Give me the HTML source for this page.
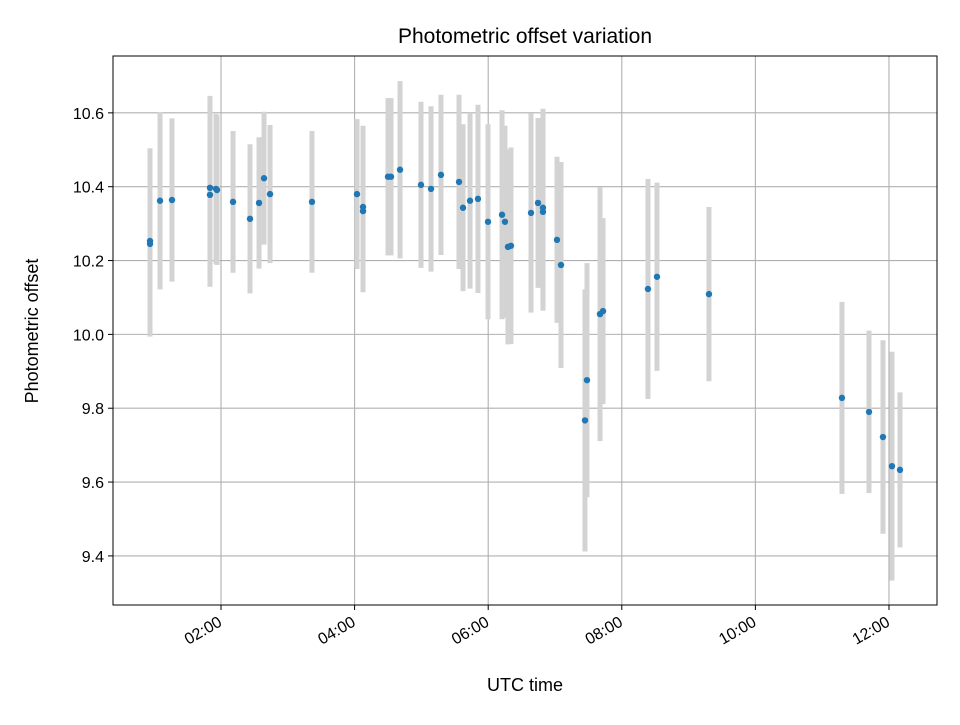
<!DOCTYPE html>
<html><head><meta charset="utf-8"><style>body{margin:0;background:#fff}svg{font-family:"Liberation Sans","DejaVu Sans",sans-serif}</style></head>
<body>
<svg id="chart" width="960" height="720" xmlns="http://www.w3.org/2000/svg">
<rect width="960" height="720" fill="#fff"/>
<g id="grid"></g>
<g id="bars"></g>
<g id="pts"></g>
<rect x="113" y="56" width="824" height="549" fill="none" stroke="#000" stroke-width="1"/>
<g id="ticks"></g>
<text x="525" y="43" text-anchor="middle" font-size="21">Photometric offset variation</text>
<text x="525" y="691" text-anchor="middle" font-size="18">UTC time</text>
<text transform="translate(38,331) rotate(-90)" text-anchor="middle" font-size="18">Photometric offset</text>
</svg>
<script>
const hours=[0.937,0.937,1.087,1.266,1.835,1.835,1.925,1.94,2.18,2.434,2.569,2.644,2.734,3.362,4.036,4.126,4.126,4.5,4.545,4.68,4.994,5.144,5.293,5.563,5.623,5.728,5.847,5.997,6.207,6.251,6.296,6.341,6.641,6.746,6.82,6.82,7.03,7.09,7.449,7.479,7.674,7.719,8.392,8.527,9.305,11.296,11.701,11.91,12.045,12.165];
const values=[10.253,10.245,10.362,10.364,10.378,10.397,10.394,10.391,10.359,10.313,10.356,10.423,10.380,10.359,10.380,10.345,10.334,10.427,10.427,10.446,10.405,10.394,10.432,10.413,10.343,10.362,10.367,10.305,10.324,10.305,10.237,10.240,10.329,10.356,10.343,10.332,10.256,10.188,9.767,9.876,10.055,10.063,10.123,10.156,10.109,9.828,9.790,9.722,9.643,9.633];
const errors=[0.251,0.251,0.24,0.221,0.249,0.249,0.203,0.203,0.192,0.202,0.178,0.18,0.187,0.192,0.203,0.22,0.22,0.213,0.213,0.24,0.225,0.224,0.217,0.236,0.226,0.238,0.255,0.264,0.283,0.26,0.264,0.266,0.27,0.23,0.268,0.268,0.225,0.279,0.355,0.317,0.344,0.252,0.298,0.255,0.236,0.26,0.22,0.262,0.31,0.21];
const xTicks=[2,4,6,8,10,12];
const xTickLabels=["02:00","04:00","06:00","08:00","10:00","12:00"];
const yTicks=[9.4,9.6,9.8,10.0,10.2,10.4,10.6];
const yTickLabels=["9.4","9.6","9.8","10.0","10.2","10.4","10.6"];
const X0=113,X1=937,Y0=56,Y1=605,xMin=0.383,xMax=12.719,yMin=9.267,yMax=10.754;
const sx=h=>X0+(h-xMin)/(xMax-xMin)*(X1-X0);
const sy=v=>Y1-(v-yMin)/(yMax-yMin)*(Y1-Y0);
const NS="http://www.w3.org/2000/svg";
function mk(t,a,p){const e=document.createElementNS(NS,t);for(const k in a)e.setAttribute(k,a[k]);p.appendChild(e);return e;}
const grid=document.getElementById('grid'),ticks=document.getElementById('ticks'),bars=document.getElementById('bars'),pts=document.getElementById('pts');
xTicks.forEach((t,i)=>{const x=sx(t);
 const g=mk('line',{x1:x,x2:x,y1:Y0,y2:Y1,stroke:'#b0b0b0','stroke-width':1.1},grid);
 
 
 const tk=mk('line',{x1:x,x2:x,y1:Y1,y2:Y1+5,stroke:'#000'},ticks);
 
 
 const tx=mk('text',{transform:`translate(${x+2},${Y1+20}) rotate(-30)`,'text-anchor':'end','font-size':16},ticks);
 
 
 tx.textContent=xTickLabels[i];});
yTicks.forEach((t,i)=>{const y=sy(t);
 const g=mk('line',{x1:X0,x2:X1,y1:y,y2:y,stroke:'#b0b0b0','stroke-width':1.1},grid);
 
 
 const tk=mk('line',{x1:X0-5,x2:X0,y1:y,y2:y,stroke:'#000'},ticks);
 
 
 const tx=mk('text',{x:X0-9,y:y+6,'text-anchor':'end','font-size':16},ticks);
 
 
 tx.textContent=yTickLabels[i];});
hours.forEach((h,i)=>{const x=sx(h);
 const b=mk('line',{x1:x,x2:x,y1:sy(values[i]+errors[i]),y2:sy(values[i]-errors[i]),stroke:'#d3d3d3','stroke-width':5},bars);
 
 
 const c=mk('circle',{cx:x,cy:sy(values[i]),r:3.2,fill:'#1f77b4'},pts);
 
 });
</script>
</body></html>
